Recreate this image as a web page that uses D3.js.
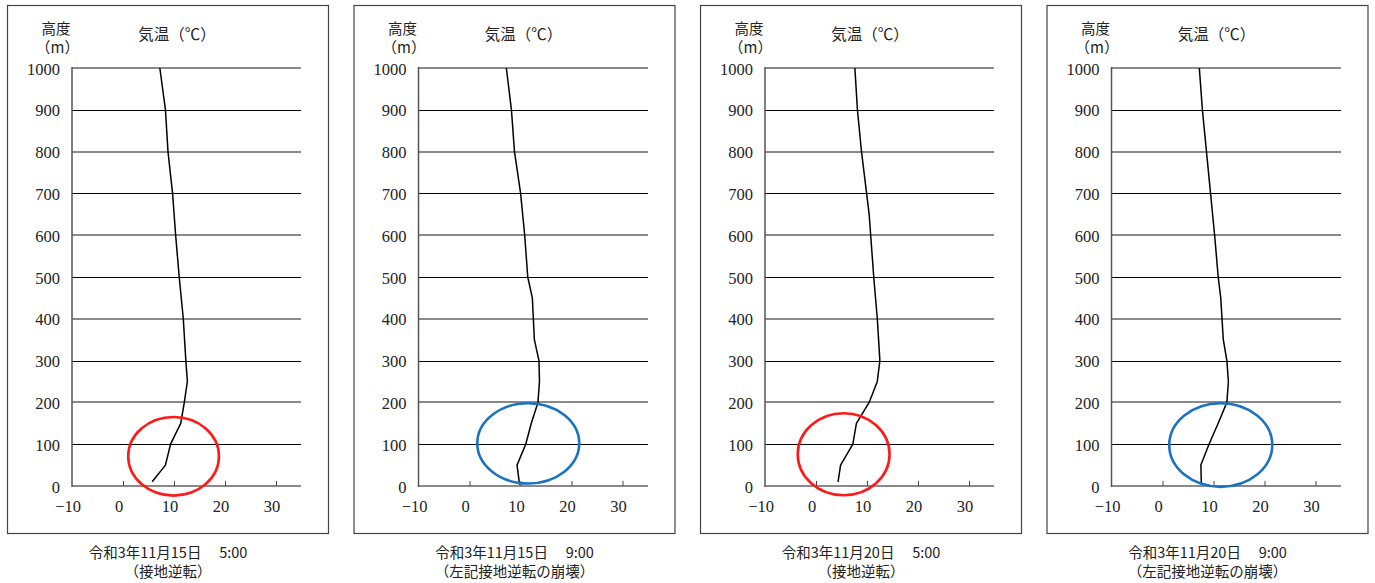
<!DOCTYPE html>
<html>
<head>
<meta charset="utf-8">
<script src="https://cdn.jsdelivr.net/npm/d3@7"></script>
<style>
  html, body { margin: 0; padding: 0; background: #fff; }
  svg { display: block; }
  text { fill: #222; }
</style>
</head>
<body>
<svg id="chart" width="1375" height="583"></svg>
<script>
// ---------- data ----------
const yTicks = [0, 100, 200, 300, 400, 500, 600, 700, 800, 900, 1000];
const xTicks = [-10, 0, 10, 20, 30];
const yTitle1 = "高度";
const yTitle2 = "（m）";
const xTitle = "気温（℃）";

const captionDates = ["令和3年11月15日　 5:00", "令和3年11月15日　 9:00", "令和3年11月20日　 5:00", "令和3年11月20日　 9:00"];
const captionNotes = ["（接地逆転）", "（左記接地逆転の崩壊）", "（接地逆転）", "（左記接地逆転の崩壊）"];

// panel 1 : 2021-11-15 5:00
const heights1 = [10, 50, 100, 150, 200, 250, 300, 400, 500, 600, 700, 800, 900, 1000];
const temps1   = [5.8, 8.4, 9.4, 11.4, 12.1, 12.7, 12.4, 11.9, 11.1, 10.4, 9.8, 8.9, 8.4, 7.3];
// panel 2 : 2021-11-15 9:00
const heights2 = [3, 50, 100, 150, 200, 250, 300, 350, 450, 500, 600, 700, 800, 900, 1000];
const temps2   = [9.9, 9.4, 11.1, 12.2, 13.5, 13.8, 13.7, 12.8, 12.4, 11.5, 10.9, 10.1, 8.9, 8.3, 7.3];
// panel 3 : 2021-11-20 5:00
const heights3 = [10, 50, 100, 150, 200, 250, 300, 400, 500, 600, 650, 700, 800, 900, 1000];
const temps3   = [4.4, 4.9, 7.3, 8.0, 10.5, 12.1, 12.6, 12.1, 11.4, 10.8, 10.5, 10.0, 9.0, 8.2, 7.7];
// panel 4 : 2021-11-20 9:00
const heights4 = [5, 50, 100, 150, 200, 250, 300, 350, 450, 500, 600, 700, 800, 900, 950, 1000];
const temps4   = [7.7, 7.6, 9.2, 11.0, 12.7, 13.0, 12.7, 12.0, 11.5, 11.0, 10.3, 9.5, 8.7, 7.9, 7.6, 7.3];

// highlighted regions (data units: °C, m)
const ellipseCx = [10.0, 11.6, 5.5, 11.5];
const ellipseCy = [71, 102, 76, 98];
const ellipseRx = [8.9, 10.0, 9.0, 10.1];
const ellipseRy = [94, 96, 98, 100];
const ellipseKind = ["inversion", "breakup", "inversion", "breakup"];

const profiles = [
  {h: heights1, t: temps1},
  {h: heights2, t: temps2},
  {h: heights3, t: temps3},
  {h: heights4, t: temps4}
];

// ---------- layout ----------
const NUM_FONT = "'Liberation Serif', 'Times New Roman', serif";
const JP_FONT = "'Noto Sans CJK JP', 'Noto Sans CJK SC', sans-serif";
const svg = d3.select("#chart");
const panelStep = 346.5;
const frameX = 7, frameY = 5, frameW = 321, frameH = 528;
const axisLeft = 71.6, axisRight = 301.1;
const x = d3.scaleLinear().domain([-10, 35]).range([axisLeft, axisRight]);
const y = d3.scaleLinear().domain([0, 1000]).range([486, 68]);
const kindColor = {inversion: "#ff1a1a", breakup: "#1a73c2"};
const fmt = v => (v < 0 ? "\u2212" + Math.abs(v) : String(v));

profiles.forEach((p, i) => {
  const g = svg.append("g").attr("transform", `translate(${i * panelStep},0)`);

  g.append("rect")
    .attr("x", frameX + 0.5).attr("y", frameY + 0.5)
    .attr("width", frameW).attr("height", frameH)
    .attr("fill", "none").attr("stroke", "#444").attr("stroke-width", 1.2);

  g.selectAll("line.grid").data(yTicks).enter().append("line")
    .attr("class", "grid")
    .attr("x1", axisLeft).attr("x2", axisRight)
    .attr("y1", d => (d / 100) % 2 === 0 ? Math.round(y(d)) : Math.round(y(d)) + 0.5)
    .attr("y2", d => (d / 100) % 2 === 0 ? Math.round(y(d)) : Math.round(y(d)) + 0.5)
    .attr("stroke", d => (d / 100) % 2 === 0 ? "#8a8a8a" : "#000")
    .attr("stroke-width", d => (d / 100) % 2 === 0 ? 2 : 1)
    .attr("shape-rendering", "crispEdges");

  g.append("line")
    .attr("x1", 72).attr("x2", 72)
    .attr("y1", y(1000) - 1).attr("y2", y(0) + 1)
    .attr("stroke", "#555").attr("stroke-width", 1.5);

  g.selectAll("line.xt").data(xTicks.filter(d => d > -10)).enter().append("line")
    .attr("class", "xt")
    .attr("x1", d => Math.round(x(d)) + 0.5).attr("x2", d => Math.round(x(d)) + 0.5)
    .attr("y1", y(0)).attr("y2", y(0) - 5)
    .attr("stroke", "#444").attr("stroke-width", 1);

  g.selectAll("text.yl").data(yTicks).enter().append("text")
    .attr("class", "yl")
    .attr("font-family", NUM_FONT)
    .attr("x", 60).attr("y", d => y(d) + 6.5)
    .attr("text-anchor", "end")
    .attr("font-size", 16.5)
    .text(d => d);

  g.selectAll("text.xl").data(xTicks).enter().append("text")
    .attr("class", "xl")
    .attr("font-family", NUM_FONT)
    .attr("x", d => x(d) - 3.5).attr("y", 511.5)
    .attr("text-anchor", "middle")
    .attr("font-size", 16.5)
    .text(fmt);

  g.append("text").attr("font-family", JP_FONT).attr("x", 56).attr("y", 34)
    .attr("text-anchor", "middle").attr("font-size", 14.5).text(yTitle1);
  g.append("text").attr("font-family", JP_FONT).attr("x", 57.5).attr("y", 52.5)
    .attr("text-anchor", "middle").attr("font-size", 15).text(yTitle2);
  g.append("text").attr("font-family", JP_FONT).attr("x", 177).attr("y", 39.5)
    .attr("text-anchor", "middle").attr("font-size", 15.5).text(xTitle);

  const pts = p.h.map((h, k) => [p.t[k], h]);
  g.append("path")
    .datum(pts)
    .attr("fill", "none").attr("stroke", "#000").attr("stroke-width", 1.5)
    .attr("stroke-linejoin", "round")
    .attr("d", d3.line().x(d => x(d[0])).y(d => y(d[1])));

  g.append("ellipse")
    .attr("cx", x(ellipseCx[i])).attr("cy", y(ellipseCy[i]))
    .attr("rx", x(ellipseRx[i]) - x(0)).attr("ry", y(0) - y(ellipseRy[i]))
    .attr("fill", "none")
    .attr("stroke", kindColor[ellipseKind[i]])
    .attr("stroke-width", 2.6);

  const cx = frameX + frameW / 2 + 0.5;
  g.append("text").attr("font-family", JP_FONT).attr("x", cx).attr("y", 558)
    .attr("text-anchor", "middle").attr("font-size", 14.5).text(captionDates[i]);
  g.append("text").attr("font-family", JP_FONT).attr("x", cx).attr("y", 576.5)
    .attr("text-anchor", "middle").attr("font-size", 14.5).text(captionNotes[i]);
});
</script>
</body>
</html>
